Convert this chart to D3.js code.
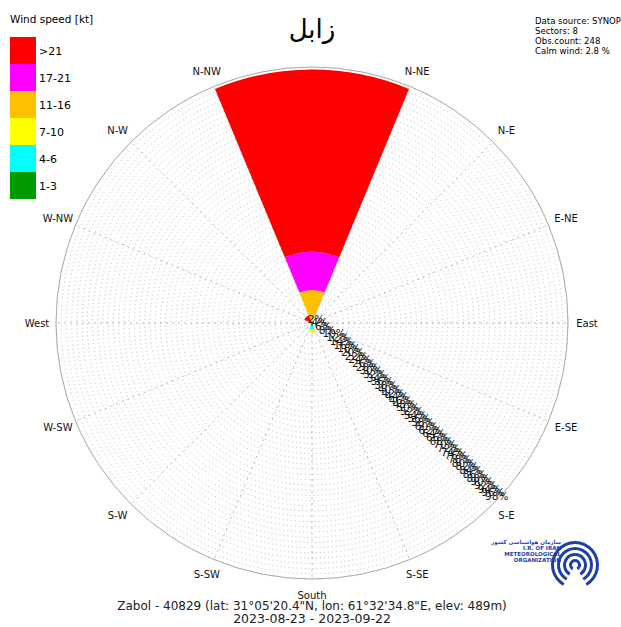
<!DOCTYPE html>
<html>
<head>
<meta charset="utf-8">
<script src="https://cdn.jsdelivr.net/npm/d3@7"></script>
<style>
  body { margin: 0; background: #fff; }
  svg { display: block; font-family: "DejaVu Sans", sans-serif; }
</style>
</head>
<body>
<div id="app"></div>
<script>
// wind speed classes, from weakest to strongest
const classes = ['1-3', '4-6', '7-10', '11-16', '17-21', '>21']
const class_colors = ['#009a00', '#00ffff', '#ffff00', '#ffc000', '#ff00ff', '#ff0000']

// direction sectors (8), angle in degrees from north
const directions = ['N', 'NE', 'E', 'SE', 'S', 'SW', 'W', 'NW']
const dir_angles = [0, 45, 90, 135, 180, 225, 270, 315]

// frequency (%) per direction, one value per class in the order above
const freq_N  = [0.4, 0.4, 0.8, 11.0, 14.6, 69.8]
const freq_NE = [0, 0, 0, 0, 0, 0]
const freq_E  = [0, 0, 0, 0, 0, 0]
const freq_SE = [0, 0, 0, 0, 0, 0]
const freq_S  = [1.2, 1.2, 1.2, 0, 0, 0]
const freq_SW = [0, 0, 0, 0, 0, 0]
const freq_W  = [0, 0, 0, 0, 0, 0]
const freq_NW = [0, 0, 0, 0, 0, 3.2]
const freqs = [freq_N, freq_NE, freq_E, freq_SE, freq_S, freq_SW, freq_W, freq_NW]

// compass labels around the rose
const compass_labels = ['N-NE', 'N-E', 'E-NE', 'East', 'E-SE', 'S-E', 'S-SE', 'South',
                        'S-SW', 'S-W', 'W-SW', 'West', 'W-NW', 'N-W', 'N-NW']
const compass_angles = [22.5, 45, 67.5, 90, 112.5, 135, 157.5, 180,
                        202.5, 225, 247.5, 270, 292.5, 315, 337.5]

// ring ticks in percent
const ring_ticks = d3.range(2, 99, 2)
const max_pct = 98

const info_lines = ['Data source: SYNOP', 'Sectors: 8', 'Obs.count: 248', 'Calm wind: 2.8 %']
const title = 'زابل'
const footer_1 = 'Zabol - 40829 (lat: 31°05\'20.4"N, lon: 61°32\'34.8"E, elev: 489m)'
const footer_2 = '2023-08-23 - 2023-09-22'

const width = 621
const height = 627
const cx = 312
const cy = 323
const R = 256

const r_scale = d3.scaleLinear().domain([0, max_pct]).range([0, R])
const rad = d => d * Math.PI / 180

const svg = d3.create('svg')
    .attr('viewBox', [0, 0, width, height])
    .attr('width', width)
    .attr('height', height)

svg.append('rect').attr('width', width).attr('height', height).attr('fill', '#fff')

const rose = svg.append('g').attr('transform', `translate(${cx},${cy})`)

// grid circles
rose.append('g')
    .selectAll('circle')
    .data(ring_ticks)
    .join('circle')
    .attr('r', d => r_scale(d))
    .attr('fill', 'none')
    .attr('stroke', '#a8a8a8')
    .attr('stroke-width', 0.8)
    .attr('stroke-dasharray', '1,3')

// radial grid lines
rose.append('g')
    .selectAll('line')
    .data(d3.range(0, 360, 22.5))
    .join('line')
    .attr('x1', 0).attr('y1', 0)
    .attr('x2', d => R * Math.sin(rad(d)))
    .attr('y2', d => -R * Math.cos(rad(d)))
    .attr('stroke', '#999')
    .attr('stroke-width', 0.7)
    .attr('stroke-dasharray', '2,4')

// outer circle
rose.append('circle')
    .attr('r', R)
    .attr('fill', 'none')
    .attr('stroke', '#aaa')
    .attr('stroke-width', 1)

// stacked sectors
const arc = d3.arc()
const stacks = []
freqs.forEach((f, i) => {
    let cum = 0
    f.forEach((v, k) => {
        if (v > 0) {
            stacks.push({dir: i, cls: k, from: cum, to: cum + v})
        }
        cum += v
    })
})

rose.append('g')
    .selectAll('path')
    .data(stacks)
    .join('path')
    .attr('d', d => arc({
        innerRadius: r_scale(d.from),
        outerRadius: r_scale(d.to),
        startAngle: rad(dir_angles[d.dir] - 22.5),
        endAngle: rad(dir_angles[d.dir] + 22.5)
    }))
    .attr('fill', d => class_colors[d.cls])

// ring labels along the S-E direction
rose.append('g')
    .selectAll('text')
    .data(ring_ticks)
    .join('text')
    .attr('x', d => r_scale(d) * Math.sin(rad(135)) - 8)
    .attr('y', d => -r_scale(d) * Math.cos(rad(135)) - 4)
    .attr('font-size', 10.5)
    .attr('fill', '#1a1a1a')
    .text(d => d + '%')

// compass labels
rose.append('g')
    .selectAll('text')
    .data(compass_labels)
    .join('text')
    .attr('x', (d, i) => 275 * Math.sin(rad(compass_angles[i])))
    .attr('y', (d, i) => -272 * Math.cos(rad(compass_angles[i])))
    .attr('text-anchor', 'middle')
    .attr('dominant-baseline', 'central')
    .attr('font-size', 10)
    .attr('fill', '#111')
    .text(d => d)

// title
svg.append('text')
    .attr('x', cx)
    .attr('y', 38)
    .attr('text-anchor', 'middle')
    .attr('font-size', 26)
    .text(title)

// legend
svg.append('text')
    .attr('x', 10).attr('y', 23)
    .attr('font-size', 10.5)
    .text('Wind speed [kt]')

const legend_order = d3.range(classes.length).reverse()
const legend = svg.append('g')
    .selectAll('g')
    .data(legend_order)
    .join('g')
    .attr('transform', (d, i) => `translate(10, ${37 + i * 27})`)

legend.append('rect')
    .attr('width', 26).attr('height', 27)
    .attr('fill', d => class_colors[d])

legend.append('text')
    .attr('x', 29).attr('y', 14)
    .attr('dominant-baseline', 'central')
    .attr('font-size', 11)
    .text(d => classes[d])

// info block
svg.append('g')
    .selectAll('text')
    .data(info_lines)
    .join('text')
    .attr('x', 535)
    .attr('y', (d, i) => 24 + i * 10)
    .attr('font-size', 9.5)
    .attr('font-family', '"DejaVu Sans Condensed", "Liberation Sans Narrow", sans-serif')
    .text(d => d)

// footer
svg.append('text')
    .attr('x', cx).attr('y', 610)
    .attr('text-anchor', 'middle')
    .attr('font-size', 12)
    .attr('fill', '#222')
    .text(footer_1)

svg.append('text')
    .attr('x', cx).attr('y', 623)
    .attr('text-anchor', 'middle')
    .attr('font-size', 12.5)
    .attr('fill', '#222')
    .text(footer_2)

// logo
const logo = svg.append('g').attr('transform', 'translate(575,565)')
const logo_radii = [24, 18, 12, 6]
logo.selectAll('path')
    .data(logo_radii)
    .join('path')
    .attr('d', d => d3.arc()({innerRadius: d - 3, outerRadius: d, startAngle: rad(-150), endAngle: rad(150)}))
    .attr('fill', '#1f3fa8')
logo.selectAll('text')
    .data(['سازمان هواشناسی کشور', 'I.R. OF IRAN', 'METEOROLOGICAL', 'ORGANIZATION'])
    .join('text')
    .attr('x', -14)
    .attr('y', (d, i) => -21 + i * 6)
    .attr('text-anchor', 'end')
    .attr('font-size', 5.5)
    .attr('font-weight', 'bold')
    .attr('fill', '#1f3fa8')
    .text(d => d)

d3.select('#app').append(() => svg.node())
</script>
</body>
</html>
